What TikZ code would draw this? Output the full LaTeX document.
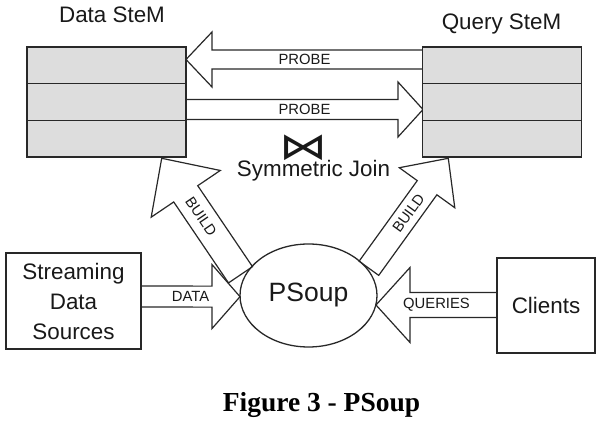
\documentclass[tikz,border=0pt]{standalone}
\usepackage{fontspec}
\setmainfont{Liberation Sans}
\newfontfamily\capfont{Liberation Serif}
\newfontfamily\symfont{DejaVu Sans}
\usetikzlibrary{calc,shapes.geometric}
\definecolor{linec}{RGB}{40,40,40}
\definecolor{textc}{RGB}{25,25,25}
\definecolor{stemfill}{RGB}{221,221,221}
\tikzset{
  stemrow/.style={draw=linec, fill=stemfill, line width=1.4pt, minimum width=159pt, minimum height=36.67pt, inner sep=0pt, outer sep=0pt},
  plainbox/.style={draw=linec, line width=1.3pt, inner sep=0pt, align=center, text=textc, font=\fontsize{22.4}{30}\selectfont},
  barrow/.style={draw=linec, fill=white, line width=1.2pt, line join=miter},
  lbl/.style={font=\fontsize{14.8}{16}\selectfont, inner sep=0pt, text=textc},
  title/.style={font=\fontsize{22.4}{26}\selectfont, inner sep=0pt, anchor=base, text=textc},
}
\newcommand\blockarrow[7]{%
  \coordinate (#7-b) at ($(#2)!#5!(#1)$);
  \draw[barrow] ($(#1)!#3!90:(#2)$) -- ($(#7-b)!#3!-90:(#1)$) -- ($(#7-b)!#4!-90:(#1)$) -- (#2) -- ($(#7-b)!#4!90:(#1)$) -- ($(#7-b)!#3!90:(#1)$) -- ($(#1)!#3!-90:(#2)$) -- cycle;
  \path (#1) -- node[lbl, sloped] (#7-l) {#6} (#2);
}
\begin{document}
\begin{tikzpicture}[x=1pt,y=1pt]
\useasboundingbox (0,0) rectangle (597,422);
% arrow end points
\coordinate (p1t) at (423,362.5);
\coordinate (p1h) at (186,362.5);
\coordinate (p2t) at (186,312.5);
\coordinate (p2h) at (423,312.5);
\coordinate (dat) at (141,125.5);
\coordinate (dah) at (240,125.3);
\coordinate (qut) at (497,117);
\coordinate (quh) at (376,117);
\coordinate (blt) at (240.5,147.2);
\coordinate (blh) at (161.7,263.7);
\coordinate (brt) at (368.9,153.7);
\coordinate (brh) at (448.3,263.7);
% arrows
\blockarrow{p1t}{p1h}{9.5pt}{27.5pt}{26pt}{PROBE}{ap1}
\blockarrow{p2t}{p2h}{10pt}{27.5pt}{25pt}{PROBE}{ap2}
\blockarrow{dat}{dah}{10.5pt}{32pt}{28pt}{DATA}{ada}
\blockarrow{qut}{quh}{12.5pt}{37.5pt}{34pt}{QUERIES}{aqu}
\blockarrow{blt}{blh}{14.5pt}{41.7pt}{42.9pt}{BUILD}{abl}
\blockarrow{brt}{brh}{12.1pt}{34.2pt}{36.3pt}{BUILD}{abr}
% SteMs
\node[stemrow] (d1) at (106.5,356.67) {};
\node[stemrow] (d2) at (106.5,320) {};
\node[stemrow] (d3) at (106.5,283.33) {};
\node[stemrow] (q1) at (502,356.67) {};
\node[stemrow] (q2) at (502,320) {};
\node[stemrow] (q3) at (502,283.33) {};
\node[title] (dtitle) at (112,399.3) {Data SteM};
\node[title] (qtitle) at (501.5,392.7) {Query SteM};
% join
\node[inner sep=0pt, text=textc] (bowtie) at (303.5,274.5) {\scalebox{1}[0.78]{\symfont\fontsize{48}{48}\selectfont ⋈}};
\node[title] (sjoin) at (313.5,245.3) {Symmetric Join};
% sources and clients
\node[plainbox, minimum width=135pt, minimum height=96pt] (src) at (73.5,121) {Streaming\\Data\\Sources};
\node[plainbox, minimum width=98pt, minimum height=95pt] (cli) at (546,116.5) {Clients};
% PSoup
\node[draw=linec, line width=1.3pt, ellipse, inner sep=0pt, minimum width=137pt, minimum height=103pt, text=textc, font=\fontsize{26.5}{30}\selectfont] (ps) at (308.5,126.5) {PSoup};
% caption
\node[anchor=base, inner sep=0pt, text=black, font=\capfont\bfseries\fontsize{27.5}{30}\selectfont] (cap) at (321.5,10.3) {Figure 3 - PSoup};
\end{tikzpicture}
\end{document}
